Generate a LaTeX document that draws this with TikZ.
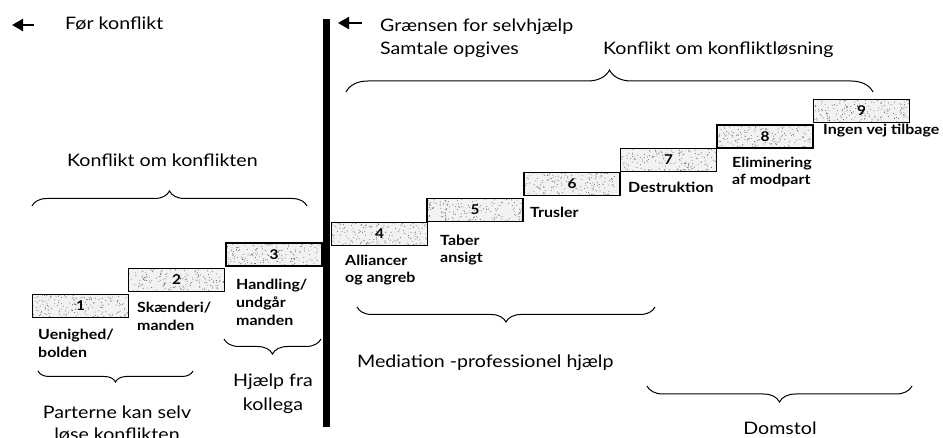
\documentclass[tikz,border=0pt]{standalone}
\usepackage{fontspec}
\setmainfont{Lato}[FakeStretch=1.14]
\usetikzlibrary{decorations.pathreplacing,arrows.meta,calc}
\begin{document}
\begin{tikzpicture}[x=1pt,y=-1pt,
  stepbox/.style={draw,line width=1.1pt,fill=gray!10,minimum width=96pt,minimum height=23pt,inner sep=0pt,
    font=\fontsize{13.5}{13.5}\selectfont\bfseries,
    path picture={
      \foreach \k in {1,...,170}{
        \fill[black!60] ($(path picture bounding box.north west)+({rnd*96},{rnd*23})$) circle (0.5pt);
      }
    }},
  lbl/.style={anchor=base west,font=\fontsize{14}{17}\selectfont\bfseries,inner sep=0pt},
  txt/.style={anchor=base west,font=\fontsize{17.2}{22}\selectfont,inner sep=0pt},
  ctxt/.style={txt,anchor=base},
  brc/.style={decorate,decoration={brace,amplitude=#1},line width=1pt},
  mbrc/.style={decorate,decoration={brace,mirror,amplitude=#1},line width=1pt},
  larr/.style={-{Triangle[length=11pt,width=12pt]},line width=2.4pt},
]
\useasboundingbox (0,0) rectangle (943,438);
\pgfmathsetseed{7}

% vertical border bar
\coordinate (bartop) at (326.5,19);
\coordinate (barbot) at (326.5,427);
\draw[line width=7pt] (bartop) -- (barbot);

% steps
\node[stepbox] (b1) at (80.5,306) {1};
\node[stepbox] (b2) at (176.5,280) {2};
\node[stepbox] (b3) at (274,254.5) {3};
\node[stepbox] (b4) at (379.5,234) {4};
\node[stepbox] (b5) at (475,210) {5};
\node[stepbox] (b6) at (572,184) {6};
\node[stepbox] (b7) at (668.5,160) {7};
\node[stepbox] (b8) at (765,136.5) {8};
\node[stepbox] (b9) at (861.5,111) {9};

% step labels
\node[lbl] (l1a) at (38,340) {Uenighed/};
\node[lbl] (l1b) at (38,358) {bolden};
\node[lbl] (l2a) at (137,313) {Skænderi/};
\node[lbl] (l2b) at (137,331) {manden};
\node[lbl] (l3a) at (236,290) {Handling/};
\node[lbl] (l3b) at (236,308) {undgår};
\node[lbl] (l3c) at (236,326) {manden};
\node[lbl] (l4a) at (345,266) {Alliancer};
\node[lbl] (l4b) at (345,283) {og angreb};
\node[lbl] (l5a) at (440,246) {Taber};
\node[lbl] (l5b) at (440,263) {ansigt};
\node[lbl] (l6) at (530,218) {Trusler};
\node[lbl] (l7) at (628,193) {Destruktion};
\node[lbl] (l8a) at (732,168) {Eliminering};
\node[lbl] (l8b) at (732,185) {af modpart};
\node[lbl] (l9) at (823,135) {Ingen vej tilbage};

% top texts and arrows
\coordinate (a1s) at (34,25);
\coordinate (a1e) at (12,25);
\draw[larr] (a1s) -- (a1e);
\node[txt] (tfor) at (65,30) {Før konflikt};
\coordinate (a2s) at (362,23);
\coordinate (a2e) at (338,23);
\draw[larr] (a2s) -- (a2e);
\node[txt] (tgr) at (380,32) {Grænsen for selvhjælp};
\node[txt] (tsam) at (380,55) {Samtale opgives};
\node[txt] (tkl) at (603,55) {Konflikt om konfliktløsning};

% braces
\coordinate (bA1) at (32,206);  \coordinate (bA2) at (307,206);
\draw[brc=15] (bA1) -- (bA2);
\node[txt] (tkk) at (67,167) {Konflikt om konflikten};

\coordinate (bB1) at (346,92);  \coordinate (bB2) at (873,92);
\draw[brc=22] (bB1) -- (bB2);

\coordinate (bC1) at (224,339); \coordinate (bC2) at (321,339);
\draw[mbrc=15] (bC1) -- (bC2);
\node[ctxt] (th1) at (273,387) {Hjælp fra};
\node[ctxt] (th2) at (273,410) {kollega};

\coordinate (bD1) at (38,371);  \coordinate (bD2) at (193,371);
\draw[mbrc=11] (bD1) -- (bD2);
\node[ctxt] (tp1) at (117,418) {Parterne kan selv};
\node[ctxt] (tp2) at (117,440) {løse konflikten};

\coordinate (bE1) at (357,307); \coordinate (bE2) at (655,307);
\draw[mbrc=15] (bE1) -- (bE2);
\node[txt] (tmed) at (357,368) {Mediation -professionel hjælp};

\coordinate (bF1) at (647,386); \coordinate (bF2) at (912,386);
\draw[mbrc=16] (bF1) -- (bF2);
\node[ctxt] (tdom) at (780,434) {Domstol};
\end{tikzpicture}
\end{document}
